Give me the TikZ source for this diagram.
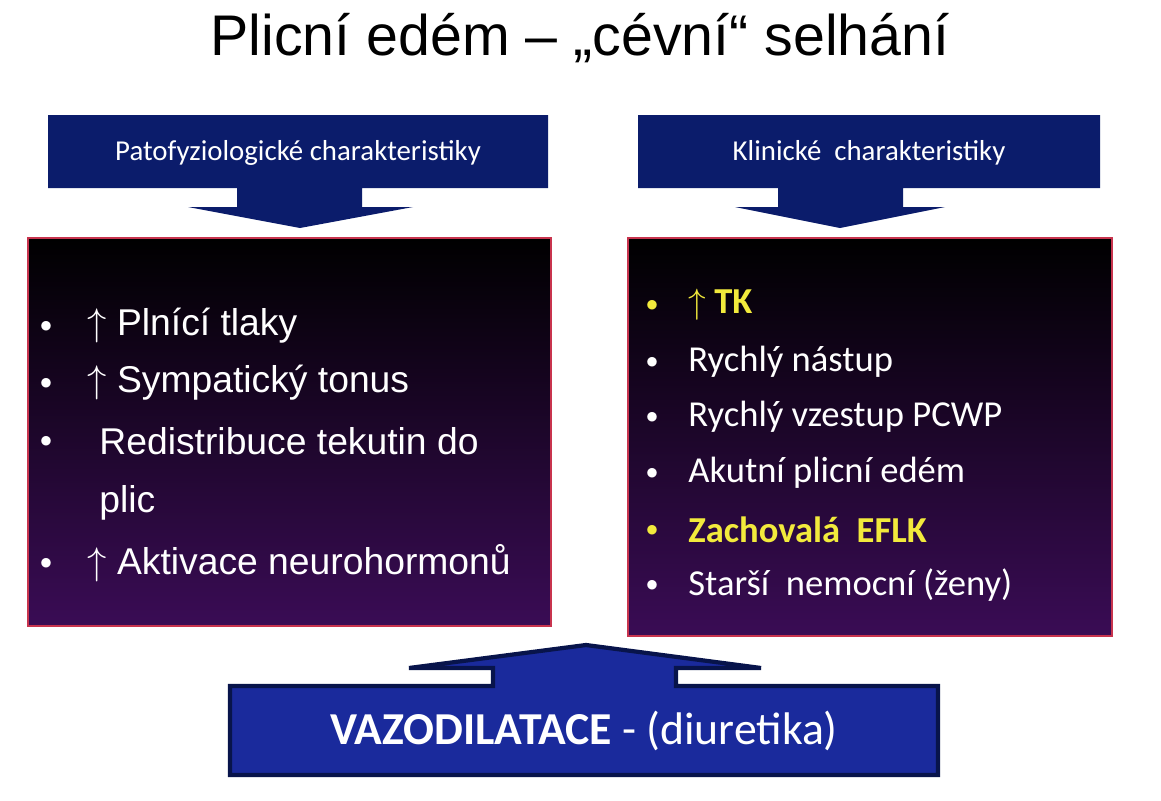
\documentclass[tikz,border=0pt]{standalone}
\usepackage{fontspec}
\setmainfont{Liberation Sans}
\newfontfamily\calib{Carlito}
\usepackage{tikz}
\usetikzlibrary{positioning}
\definecolor{navy}{HTML}{0B1C6B}
\definecolor{vzblue}{HTML}{1A2A9C}
\definecolor{boxpurple}{HTML}{3A0C55}
\definecolor{boxred}{HTML}{C8344E}
\definecolor{hiyellow}{HTML}{F2EA3C}
\tikzset{
  callout/.style={fill=navy},
  panel/.style={draw=boxred, line width=0.6pt, top color=black, bottom color=boxpurple},
  litem/.style={anchor=west, text=white, font=\fontsize{10.6}{12}\selectfont},
  ritem/.style={anchor=west, text=white, font=\calib\fontsize{10.4}{12}\selectfont},
  bul/.style={text=white, font=\fontsize{6}{8}\selectfont},
}
\begin{document}
\begin{tikzpicture}[x=0.01cm, y=-0.01cm]
                \useasboundingbox (0,0) rectangle (1161,800);

                % title
                \node (title) at (580,38) {\fontsize{16.3}{19}\selectfont Plicní edém -- „cévní“ selhání};

                % top callouts
                \fill[callout] (48,115) -- (548,115) -- (548,188) -- (362,188) -- (362,207) -- (413,207)
                  -- (300,228) -- (188,207) -- (237,207) -- (237,188) -- (48,188) -- cycle;
                \node[text=white, font=\calib\fontsize{8.2}{9}\selectfont] (patof) at (298,153) {Patofyziologické charakteristiky};
                \fill[callout] (638,115) -- (1100,115) -- (1100,188) -- (903,188) -- (903,207) -- (945,207)
                  -- (840,228) -- (735,207) -- (778,207) -- (778,188) -- (638,188) -- cycle;
                \node[text=white, font=\calib\fontsize{8.2}{9}\selectfont] (klin) at (869,153) {Klinické\ \ charakteristiky};

                % panels
                \draw[panel] (28,238) rectangle (551,626);
                \draw[panel] (628,238) rectangle (1112,636);

                % left list
                \foreach \yy in {326,383,441,563} \node[bul] at (46,\yy) {$\bullet$};
                \node[litem] (l1) at (75,326) {$\uparrow$ Plnící tlaky};
                \node[litem] (l2) at (75,383) {$\uparrow$ Sympatický tonus};
                \node[litem] (l3) at (87,441) {Redistribuce tekutin do};
                \node[litem] (l4) at (87,503) {plic};
                \node[litem] (l5) at (75,563) {$\uparrow$ Aktivace neurohormonů};

                % right list
                \foreach \yy/\cc in {305/hiyellow,362/white,417/white,473/white,530/hiyellow,585/white}
                  \node[bul, text=\cc] at (652,\yy) {$\bullet$};
                \node[ritem, text=hiyellow] (r1) at (676,305) {\bfseries$\uparrow$ TK};
                \node[ritem] (r2) at (676,362) {Rychlý nástup};
                \node[ritem] (r3) at (676,417) {Rychlý vzestup PCWP};
                \node[ritem] (r4) at (676,473) {Akutní plicní edém};
                \node[ritem, text=hiyellow] (r5) at (676,530) {\bfseries Zachovalá\ \ EFLK};
                \node[ritem] (r6) at (676,585) {Starší\ \ nemocní (ženy)};

                % bottom callout
                \filldraw[fill=vzblue, draw=navy!70!black, line width=1.2pt]
                  (230,686) -- (493,686) -- (493,668) -- (409,668) -- (586,645) -- (761,668) -- (676,668)
                  -- (676,686) -- (938,686) -- (938,775) -- (230,775) -- cycle;
                \node[text=white, font=\calib\fontsize{13}{15}\selectfont] (vazo) at (584,731) {\bfseries VAZODILATACE\mdseries\ - (diuretika)};
\end{tikzpicture}
\end{document}
